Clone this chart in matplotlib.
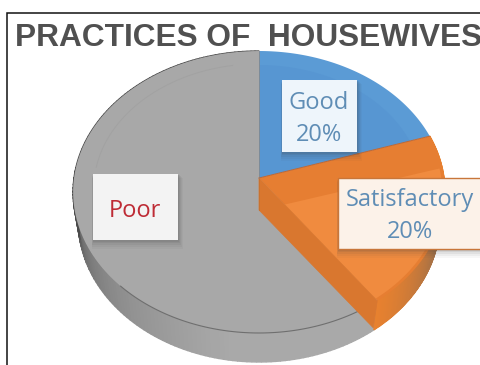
import numpy as np
import matplotlib
matplotlib.use("Agg")
import matplotlib.pyplot as plt
from matplotlib.patches import Polygon, Rectangle

title = "PRACTICES OF  HOUSEWIVES"
categories = ["Good", "Satisfactory", "Poor"]
shares = [20, 20, 60]
label_lines = {"Good": ["Good", "20%"], "Satisfactory": ["Satisfactory", "20%"], "Poor": ["Poor"]}

W, H = 481, 365
CX, CY = 259.0, 178.0
RX, RY, PERSP = 185.0, 139.6, 0.0993
DEPTH = 29.0

fig = plt.figure(figsize=(W / 100, H / 100), dpi=100, facecolor="white")
ax = fig.add_axes([0, 0, 1, 1])
ax.set_xlim(0, W)
ax.set_ylim(H, 0)
ax.axis("off")


def project(theta, r=1.0, drop=0.0, shrink=1.0):
    """Perspective projection of a point on the tilted pie disc (angles in degrees)."""
    t = np.radians(theta)
    s = np.sin(t) * r
    c = np.cos(t) * r
    d = 1 + PERSP * s
    return np.column_stack([CX + shrink * RX * c / d, CY - RY * s / d + drop])


def wedge(a0, a1, r=1.0):
    th = np.linspace(a0, a1, 90)
    return np.vstack([[CX, CY], project(th, r)])


def mix(c1, c2, f):
    return tuple((1 - f) * np.array(matplotlib.colors.to_rgb(c1)) + f * np.array(matplotlib.colors.to_rgb(c2)))


# slice boundaries, clockwise from twelve o'clock
edges = 90 - 3.6 * np.cumsum([0] + shares)
good = (edges[0], edges[1])
sat = (edges[1], edges[2])
poor = (edges[2], edges[3])


# outer side wall of the disc, built from short shaded segments
def wall(a0, a1, shade):
    th = np.linspace(a0, a1, 160)
    for i in range(len(th) - 1):
        seg = th[i:i + 2]
        upper = project(seg)
        lower = project(seg, drop=DEPTH, shrink=0.972)
        col = shade((seg[0] + seg[1]) / 2)
        ax.add_patch(Polygon(np.vstack([upper, lower[::-1]]), closed=True, fc=col, ec=col, lw=1.0, zorder=2))


def grey_shade(a):
    a = (a + 360) % 360
    f = np.clip((a - 192) / 70, 0, 1)
    return mix("#4a4a4a", "#a9a9a9", f ** 0.45)


def orange_shade(a):
    a = (a + 360) % 360
    f = np.clip((a - 306) / 45, 0, 1)
    return mix("#E8812F", "#8a6a50", f ** 1.2)


wall(poor[0] - 360, poor[1] - 360, grey_shade)
wall(sat[1], sat[0], orange_shade)

# top faces
ax.add_patch(Polygon(wedge(*poor), closed=True, fc="#A8A8A8", ec="none", zorder=3))
ax.plot(*project(np.linspace(100, 175, 60), r=0.89).T, color="#A2A2A2", lw=0.7, zorder=3.1)
ax.plot(*project(np.linspace(226, 305, 80)).T, color="#6f6f6f", lw=0.8, zorder=3.2)

ax.add_patch(Polygon(wedge(*good), closed=True, fc="#5B9BD5", ec="none", zorder=4))
ax.add_patch(Polygon(wedge(*good, r=0.88), closed=True, fc="#5796D2", ec="none", zorder=4))

ax.add_patch(Polygon(wedge(*sat), closed=True, fc="#E67E32", ec="none", zorder=5))
inner_rim = project(np.linspace(sat[1], 4, 80), r=0.985)
cut_point = np.array([[CX + 0.22 * (inner_rim[0, 0] - CX), CY + 0.22 * (inner_rim[0, 1] - CY)]])
ax.add_patch(Polygon(np.vstack([cut_point, inner_rim]), closed=True, fc="#F08B3F", ec="none", zorder=5))

# cut face of the orange slice
cut_top = np.vstack([[CX, CY], project(sat[1])])
cut_low = cut_top + np.array([[0, 32], [-4, 27]])
ax.add_patch(Polygon(np.vstack([cut_top, cut_low[::-1]]), closed=True, fc="#D9772F", ec="#D9772F", lw=0.5, zorder=6))
ax.plot([CX, CX], [CY, CY + 32], color="#C9722F", lw=0.7, zorder=6)

# seams between the slices
ax.plot(*np.vstack([[CX, CY], project(good[0])]).T, color="#7E8B98", lw=0.7, zorder=6)
ax.plot(*np.vstack([[CX, CY], project(good[1])]).T, color="#B9683A", lw=0.7, zorder=6)


def label(x0, y0, x1, y1, fill, text_color, lines, ys, cx, edge=None):
    for off, al in [(9, 0.04), (7, 0.05), (5, 0.07), (3, 0.09), (1.5, 0.10)]:
        ax.add_patch(Rectangle((x0 - off * 0.1, y0 + off * 0.4), x1 - x0 + off * 0.7, y1 - y0 + off * 0.6,
                               fc="#404040", alpha=al, ec="none", zorder=7))
    ax.add_patch(Rectangle((x0, y0), x1 - x0, y1 - y0, fc=fill, ec=edge or "none", lw=1.0, zorder=8))
    for line, y in zip(lines, ys):
        ax.text(cx, y, line, color=text_color, fontsize=17, family="Open Sans",
                ha="center", va="center", zorder=9)


label(282, 80, 357, 152, "#EEF5FB", "#5F8DB5", label_lines["Good"], [103, 135], 319)
label(338, 178, 490, 249, "#FCF2E9", "#5F8DB5", label_lines["Satisfactory"], [200, 232], 410, edge="#C8763A")
label(93, 174, 178, 240, "#F3F3F3", "#BE2B35", label_lines["Poor"], [211], 135)

# frame, open towards the right and bottom edges
ax.plot([7.5, 7.5, W + 2], [H + 2, 12.5, 12.5], color="#111111", lw=1.1, zorder=10, solid_joinstyle="miter")

ax.text(15, 45.5, title, color="#505050", fontsize=22.8, fontweight="bold",
        family="Liberation Sans", ha="left", va="baseline", zorder=10)

fig.savefig("out.png", dpi=100, facecolor="white")
